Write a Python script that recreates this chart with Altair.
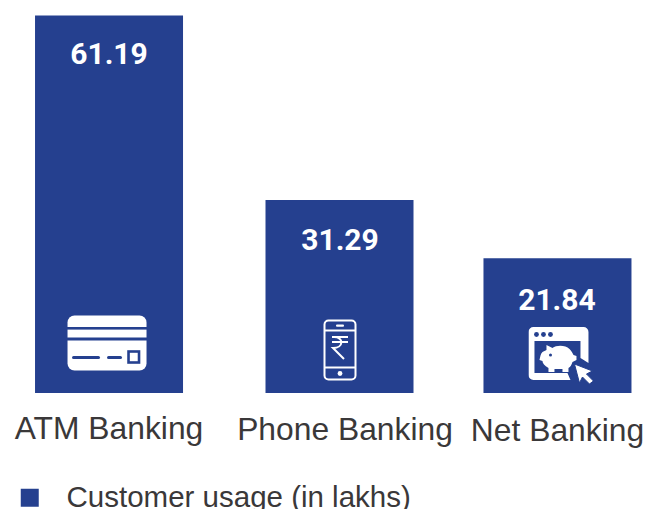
import urllib.parse
import altair as alt
import pandas as pd

categories = ["ATM Banking", "Phone Banking", "Net Banking"]
usage = [61.19, 31.29, 21.84]
series_name = "Customer usage (in lakhs)"

BLUE = "#25408F"
INK = "#3A3839"


def svg_uri(w, h, body):
    svg = f'<svg xmlns="http://www.w3.org/2000/svg" width="{w}" height="{h}" viewBox="0 0 {w} {h}">{body}</svg>'
    return "data:image/svg+xml," + urllib.parse.quote(svg)


# Pictograms drawn inside the bars
card_icon = svg_uri(80, 56, f'''
<rect x="0.5" y="0.5" width="79" height="55" rx="7" fill="#fff"/>
<rect x="0" y="12" width="80" height="2.6" fill="{BLUE}"/>
<rect x="0" y="22.5" width="80" height="3" fill="{BLUE}"/>
<rect x="5" y="41" width="28" height="3" rx="1.5" fill="{BLUE}"/>
<rect x="40" y="41" width="15" height="3" rx="1.5" fill="{BLUE}"/>
<rect x="61.5" y="36.5" width="10.5" height="11" fill="#fff" stroke="{BLUE}" stroke-width="2.6"/>
''')

phone_icon = svg_uri(34, 62, f'''
<g fill="none" stroke="#fff" stroke-width="2">
<rect x="1.5" y="1.5" width="31" height="59" rx="4"/>
<path d="M1.5 11.5H32.5M1.5 48.5H32.5"/>
<path d="M9 18H25M9 23H25M11 18C21 18 21 29 10 29L21 40"/>
</g>
<rect x="13" y="5.5" width="8" height="2.2" rx="1" fill="#fff"/>
<circle cx="17" cy="54.5" r="2.4" fill="#fff"/>
''')

net_icon = svg_uri(65, 57, f'''
<path fill="#fff" fill-rule="evenodd" d="M5 0H55a5 5 0 0 1 5 5V36L52 31V14H6V46H39L42 53H5a5 5 0 0 1-5-5V5a5 5 0 0 1 5-5Z"/>
<circle cx="8" cy="7.5" r="2.4" fill="{BLUE}"/><circle cx="15" cy="7.5" r="2.4" fill="{BLUE}"/><circle cx="22" cy="7.5" r="2.4" fill="{BLUE}"/>
<path fill="#fff" d="M18 18L24 21C28 18 37 18 41 22C43 24 44 26 45 28L48 29V33L44 35C43 38 42 40 40 41V45H34V42H26V45H20V41C16 39 14 36 14 34L11 33C12 29 12 27 14 25C15 24 17 24 18 23Z"/>
<circle cx="22" cy="28" r="1.5" fill="{BLUE}"/>
<path fill="#fff" stroke="{BLUE}" stroke-width="1" d="M46 37L64 44L58 47L65 54L61 57L54 50L51 56Z"/>
''')

icon_urls = [card_icon, phone_icon, net_icon]
icon_sizes = [(80, 56), (34, 62), (65, 57)]

# Per-category nudges away from the evenly spaced band centres
bar_nudge = [0, 6.5, 0.5]
value_nudge = [0, 7, 0]
value_drop = [48, 50, 52]
name_nudge = [0, 12, 0.5]
name_baseline = [438.5, 440, 441]
icon_nudge = [-2, 7, 4]
icon_tops = [315, 319, 327]

df = pd.DataFrame({"cat": categories, "usage": usage, "series": [series_name] * 3})

x_scale = alt.Scale(domain=categories, range=[35, 631], paddingInner=0.339, paddingOuter=0)
y_scale = alt.Scale(domain=[0, 61.19], range=[393, 15.5], nice=False, zero=True)
x_enc = alt.X("cat:N", scale=x_scale, sort=categories, axis=None)
y_enc = alt.Y("usage:Q", scale=y_scale, axis=None)
color_enc = alt.Color(
    "series:N",
    scale=alt.Scale(domain=[series_name], range=[BLUE]),
    legend=alt.Legend(
        title=None,
        orient="none",
        legendX=15,
        legendY=483,
        symbolType="square",
        symbolSize=324,
        symbolStrokeWidth=0,
        labelFont="Liberation Sans",
        labelFontSize=29.5,
        labelColor=INK,
        labelOffset=22,
        labelLimit=500,
        padding=0,
    ),
)

layers = []
for i, cat in enumerate(categories):
    row = df[df["cat"] == cat]
    layers.append(
        alt.Chart(row).mark_bar(size=148, xOffset=bar_nudge[i]).encode(x=x_enc, y=y_enc, color=color_enc)
    )
    layers.append(
        alt.Chart(row).mark_text(
            font="Roboto", fontWeight="bold", fontSize=30, color="white",
            baseline="alphabetic", xOffset=value_nudge[i], yOffset=value_drop[i],
        ).encode(x=x_enc, y=y_enc, text=alt.Text("usage:Q", format=".2f"))
    )
    layers.append(
        alt.Chart(row).mark_text(
            font="Liberation Sans", fontSize=31.8, color=INK,
            baseline="alphabetic", xOffset=name_nudge[i],
        ).encode(x=x_enc, y=alt.value(name_baseline[i]), text="cat:N")
    )
    w, h = icon_sizes[i]
    layers.append(
        alt.Chart(row).mark_image(
            url=icon_urls[i], width=w, height=h, align="center", baseline="top", xOffset=icon_nudge[i],
        ).encode(x=x_enc, y=alt.value(icon_tops[i]))
    )

chart = alt.layer(*layers).properties(
    width=648,
    height=509,
    padding=0,
    autosize=alt.AutoSizeParams(type="none"),
    background="white",
).configure_view(stroke=None)

chart.save("out.html", embed_options={"renderer": "svg", "actions": False})
